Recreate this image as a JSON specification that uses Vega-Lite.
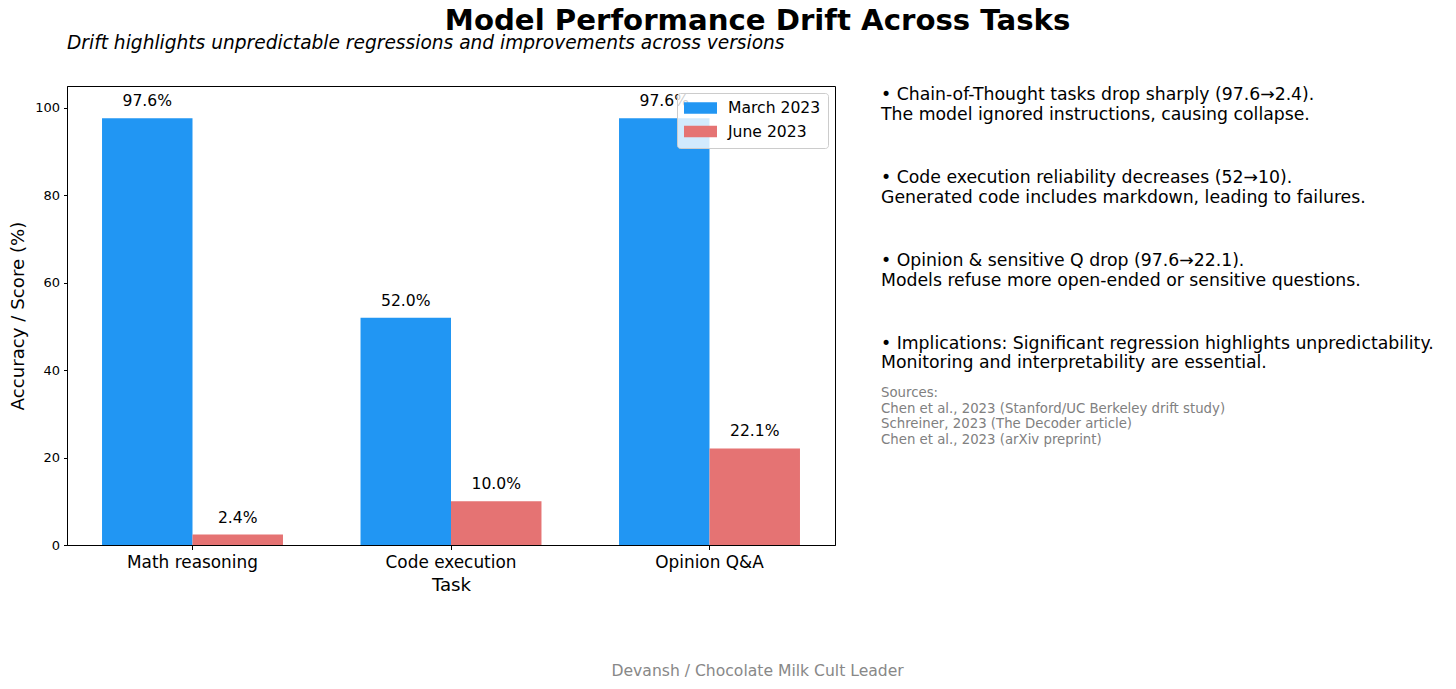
{
  "$schema": "https://vega.github.io/schema/vega-lite/v6.json",
  "padding": {"left": 8, "top": 6, "right": 5, "bottom": 5},
  "background": "white",
  "config": {
    "font": "DejaVu Sans",
    "view": {"stroke": null},
    "axis": {"labelColor": "black", "titleColor": "black", "tickColor": "black", "domainColor": "black", "grid": false, "labelFont": "DejaVu Sans", "titleFont": "DejaVu Sans", "titleFontWeight": "normal"},
    "text": {"font": "DejaVu Sans"}
  },
  "title": {"text": "Model Performance Drift Across Tasks", "fontSize": 29.2, "fontWeight": "bold", "font": "DejaVu Sans", "color": "black", "anchor": "middle", "frame": "bounds", "dx": 33, "baseline": "alphabetic", "offset": -25},
  "resolve": {"scale": {"color": "independent"}, "legend": {"color": "independent"}},
  "vconcat": [
    {
      "title": {"text": "Devansh / Chocolate Milk Cult Leader", "orient": "bottom", "anchor": "middle", "frame": "bounds", "dx": 33, "fontSize": 15.6, "fontWeight": "normal", "font": "DejaVu Sans", "color": "#888888", "baseline": "alphabetic", "offset": 82},
      "bounds": "flush",
      "spacing": 46,
      "resolve": {"scale": {"color": "independent"}, "legend": {"color": "independent"}},
      "hconcat": [
        {
          "width": 768,
          "height": 459,
          "view": {"stroke": "black", "strokeWidth": 1},
          "title": {"text": "Drift highlights unpredictable regressions and improvements across versions", "anchor": "start", "frame": "group", "fontSize": 18.6, "fontStyle": "italic", "fontWeight": "normal", "font": "DejaVu Sans", "color": "black", "baseline": "alphabetic", "offset": 18},
          "data": {"values": [
            {"task": "Math reasoning", "version": "March 2023", "value": 97.6},
            {"task": "Math reasoning", "version": "June 2023", "value": 2.4},
            {"task": "Code execution", "version": "March 2023", "value": 52.0},
            {"task": "Code execution", "version": "June 2023", "value": 10.0},
            {"task": "Opinion Q&A", "version": "March 2023", "value": 97.6},
            {"task": "Opinion Q&A", "version": "June 2023", "value": 22.1}
          ]},
          "encoding": {
            "x": {"field": "task", "type": "nominal", "sort": ["Math reasoning", "Code execution", "Opinion Q&A"], "scale": {"paddingInner": 0.3, "paddingOuter": 0.1355}, "axis": {"title": "Task", "labelAngle": 0, "labelFontSize": 16.9, "titleFontSize": 18.2, "tickSize": 4.5, "labelPadding": 5, "titlePadding": 6}},
            "xOffset": {"field": "version", "type": "nominal", "sort": ["March 2023", "June 2023"], "scale": {"paddingInner": 0, "paddingOuter": 0}},
            "y": {"field": "value", "type": "quantitative", "scale": {"domain": [0, 105], "nice": false}, "axis": {"title": "Accuracy / Score (%)", "values": [0, 20, 40, 60, 80, 100], "labelFontSize": 13, "titleFontSize": 18.2, "tickSize": 3.5, "labelPadding": 4, "titlePadding": 7}}
          },
          "layer": [
            {
              "mark": {"type": "bar"},
              "encoding": {
                "color": {"field": "version", "type": "nominal", "sort": ["March 2023", "June 2023"], "scale": {"domain": ["March 2023", "June 2023"], "range": ["#2196F3", "#E57373"]},
                  "legend": {"title": null, "orient": "top-right", "offset": 7.3, "labelFontSize": 15.6, "labelColor": "black", "symbolType": "M-1,-0.72L3.125,-0.72L3.125,0.72L-1,0.72Z", "symbolSize": 256, "symbolStrokeWidth": 0, "symbolOpacity": 1, "fillColor": "rgba(255,255,255,0.8)", "strokeColor": "#cccccc", "cornerRadius": 3, "padding": 7, "rowPadding": 6.5, "labelOffset": 28}}
              }
            },
            {
              "mark": {"type": "text", "baseline": "alphabetic", "dy": -12, "fontSize": 15.6, "color": "black", "text": {"expr": "format(datum.value, '.1f') + '%'"}}
            }
          ]
        },
        {
          "width": 560,
          "height": 459,
          "data": {"values": [
            {"block": 1, "kind": "note", "text": "• Chain-of-Thought tasks drop sharply (97.6→2.4).\nThe model ignored instructions, causing collapse."},
            {"block": 2, "kind": "note", "text": "• Code execution reliability decreases (52→10).\nGenerated code includes markdown, leading to failures."},
            {"block": 3, "kind": "note", "text": "• Opinion & sensitive Q drop (97.6→22.1).\nModels refuse more open-ended or sensitive questions."},
            {"block": 4, "kind": "note", "text": "• Implications: Significant regression highlights unpredictability.\nMonitoring and interpretability are essential."},
            {"block": 5, "kind": "sources", "text": "Sources:\nChen et al., 2023 (Stanford/UC Berkeley drift study)\nSchreiner, 2023 (The Decoder article)\nChen et al., 2023 (arXiv preprint)"}
          ]},
          "encoding": {
            "x": {"datum": 0, "type": "quantitative", "scale": {"domain": [0, 1]}, "axis": null},
            "y": {"field": "block", "type": "quantitative", "scale": {"domain": [0.825, 6.368], "reverse": true, "nice": false, "zero": false}, "axis": null},
            "text": {"field": "text"}
          },
          "layer": [
            {"transform": [{"filter": "datum.kind === 'note'"}], "mark": {"type": "text", "align": "left", "baseline": "alphabetic", "lineBreak": "\n", "lineHeight": 19.5, "fontSize": 17.3, "color": "black"}},
            {"transform": [{"filter": "datum.kind === 'sources'"}], "mark": {"type": "text", "align": "left", "baseline": "alphabetic", "lineBreak": "\n", "lineHeight": 15.7, "fontSize": 13.3, "color": "#808080", "dy": -34.7}}
          ]
        }
      ]
    }
  ]
}
